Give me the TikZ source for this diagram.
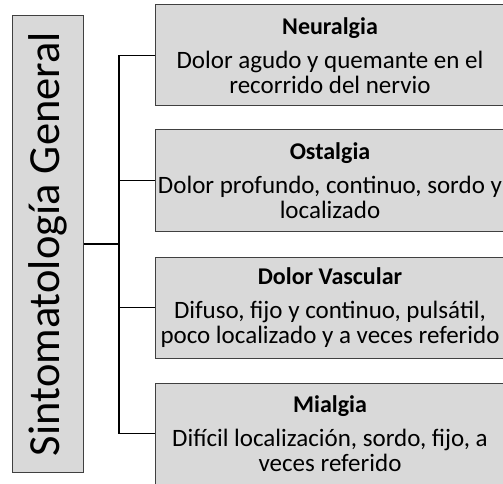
\documentclass[tikz,border=0pt]{standalone}
\usepackage{fontspec}
\setmainfont{Carlito}
\usetikzlibrary{positioning, calc}
\definecolor{cBoxFill}{RGB}{217, 217, 217}
\definecolor{cBoxDraw}{RGB}{64, 64, 64}
\definecolor{lineColor}{RGB}{0, 0, 0}
\tikzset{
    % --- block styles ---
    baseBox/.style={
        rectangle, draw=cBoxDraw, fill=cBoxFill, line width=1pt,
        align=center, inner sep=0pt
    },
    styleTopic/.style={baseBox, minimum width=350pt, minimum height=101pt,
        font=\fontsize{25}{25}\selectfont},
    styleTitle/.style={baseBox, rotate=90, minimum width=456pt, minimum height=71pt,
        font=\fontsize{44.5}{48}\selectfont},
    % --- connector style ---
    conn/.style={draw=lineColor, line width=1.3pt}
}
\newcommand{\topichead}[1]{{\fontsize{24}{25}\selectfont\bfseries #1}\\[9pt]}

\begin{document}
\begin{tikzpicture}[x=1pt, y=-1pt]
    \useasboundingbox (0,0) rectangle (503,484);
    \clip (0,0) rectangle (503,484);

    % =========================================================
    % boxes
    % =========================================================

    % title (rotated: its south side faces right)
    \node [styleTitle] (title) at (47.5,244) {Sintomatología General};

    \node [styleTopic] (neuralgia) at (330,55.5) {
        \topichead{Neuralgia}
        Dolor agudo y quemante en el\\ recorrido del nervio
    };
    \node [styleTopic] (ostalgia) at (330,180.5) {
        \topichead{Ostalgia}
        Dolor profundo, continuo, sordo y\\ localizado
    };
    \node [styleTopic] (vascular) at (330,307.5) {
        \topichead{Dolor Vascular}
        Difuso, fijo y continuo, pulsátil,\\ poco localizado y a veces referido
    };
    \node [styleTopic] (mialgia) at (330,433.5) {
        \topichead{Mialgia}
        Difícil localización, sordo, fijo, a\\ veces referido
    };

    % =========================================================
    % connectors
    % =========================================================

    \coordinate (trunk) at (119,244);
    \draw [conn] (title.south) -- (trunk);
    \draw [conn] (trunk |- neuralgia.west) -- (trunk |- mialgia.west);
    \foreach \n in {neuralgia, ostalgia, vascular, mialgia}
        \draw [conn] (trunk |- \n.west) -- (\n.west);

\end{tikzpicture}
\end{document}
